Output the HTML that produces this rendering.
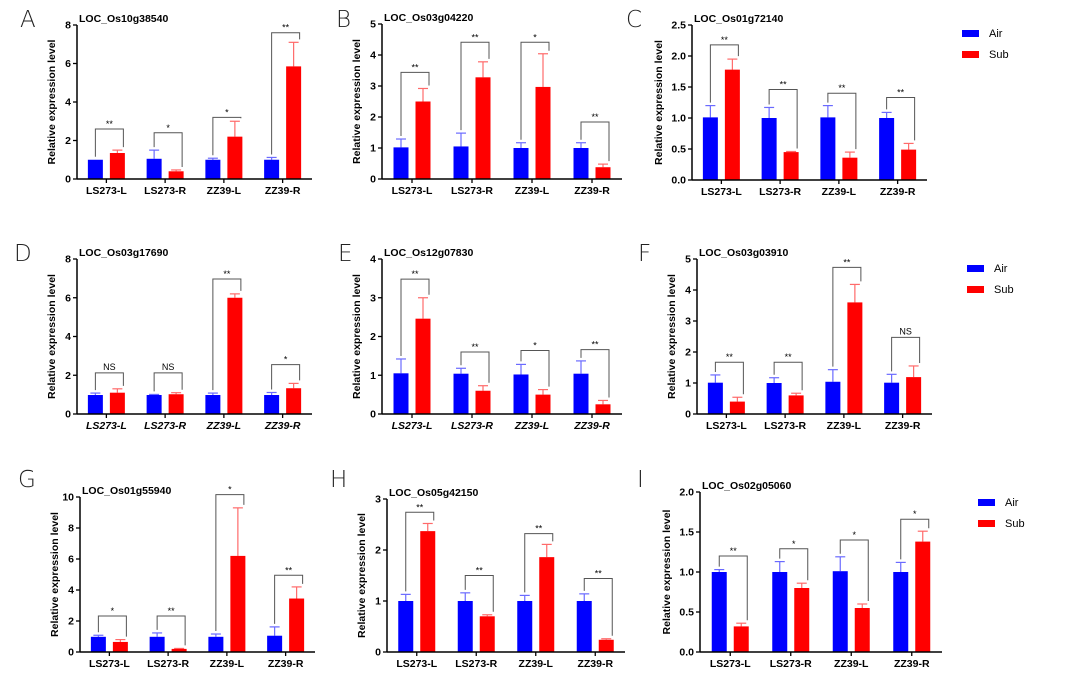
<!DOCTYPE html>
<html><head><meta charset="utf-8"><style>
html,body{margin:0;padding:0;background:#fff;}
svg{display:block;font-family:"Liberation Sans",Arial,sans-serif;}
.lt{font-size:23px;font-weight:300;fill:#222;font-family:"DejaVu Sans","Liberation Sans",sans-serif;}
.ttl{font-size:10.5px;font-weight:bold;}
.tk{font-size:10.5px;font-weight:bold;}
.cat{font-size:10.5px;font-weight:bold;}
.yt{font-size:10.5px;font-weight:bold;}
.sig{font-size:9px;}
.lg{font-size:11px;}
</style></head><body>
<svg id="fig" width="1080" height="688" viewBox="0 0 1080 688"></svg>
<script>
const categories = ["LS273-L","LS273-R","ZZ39-L","ZZ39-R"];
const panelLetters = ["A","B","C","D","E","F","G","H","I"];
const panelTitles = ["LOC_Os10g38540","LOC_Os03g04220","LOC_Os01g72140","LOC_Os03g17690","LOC_Os12g07830","LOC_Os03g03910","LOC_Os01g55940","LOC_Os05g42150","LOC_Os02g05060"];
const yMax = [8,5,2.5,8,4,5,10,3,2.0];
const yStep = [2,1,0.5,2,1,1,2,1,0.5];
const yDecimals = [0,0,1,0,0,0,0,0,1];
const airMeans = [[1,1.05,1,1],[1.02,1.05,1.0,1.0],[1.01,1.0,1.01,1.0],[0.98,0.98,0.98,0.98],[1.05,1.04,1.02,1.04],[1.01,1.0,1.04,1.01],[0.98,0.98,0.98,1.05],[1,1,1,1],[1.0,1.0,1.01,1.0]];
const airErr = [[0,0.45,0.08,0.12],[0.27,0.43,0.17,0.17],[0.19,0.17,0.19,0.09],[0.1,0.03,0.1,0.13],[0.37,0.14,0.26,0.33],[0.25,0.17,0.39,0.27],[0.1,0.25,0.18,0.57],[0.13,0.16,0.11,0.14],[0.03,0.13,0.18,0.12]];
const subMeans = [[1.35,0.4,2.2,5.85],[2.5,3.28,2.97,0.38],[1.78,0.45,0.36,0.49],[1.1,1.02,6.0,1.33],[2.46,0.6,0.5,0.25],[0.4,0.6,3.6,1.19],[0.65,0.2,6.2,3.45],[2.37,0.7,1.86,0.24],[0.32,0.8,0.55,1.38]];
const subErr = [[0.15,0.07,0.8,1.25],[0.42,0.5,1.07,0.1],[0.17,0.01,0.09,0.1],[0.2,0.08,0.2,0.25],[0.54,0.13,0.13,0.1],[0.14,0.07,0.58,0.36],[0.15,0.03,3.1,0.75],[0.15,0.03,0.25,0.02],[0.04,0.06,0.05,0.13]];
const bracketLevels = [[2.6,2.4,3.2,7.6],[3.44,4.41,4.41,1.84],[2.18,1.46,1.40,1.33],[2.12,2.12,6.97,2.55],[3.48,1.6,1.64,1.66],[1.67,1.67,4.73,2.47],[2.32,2.32,10.15,4.95],[2.74,1.5,2.32,1.44],[1.2,1.29,1.4,1.66]];
const sigLabels = [["**","*","*","**"],["**","**","*","**"],["**","**","**","**"],["NS","NS","**","*"],["**","**","*","**"],["**","**","**","NS"],["*","**","*","**"],["**","**","**","**"],["**","*","*","*"]];
const seriesNames = ["Air","Sub"];
const seriesColors = ["#0000ff","#ff0000"];
const errColors = ["#6a6aff","#ff6a6a"];
// layout (geometry, not data)
const frames = [
 {x0:77,x1:312,top:25,bot:179,lx:20,ly:27},
 {x0:382,x1:622,top:24,bot:179,lx:336,ly:27},
 {x0:692,x1:927,top:25,bot:180,lx:626,ly:27},
 {x0:77,x1:312,top:259,bot:414,lx:14,ly:261},
 {x0:382,x1:622,top:259,bot:414,lx:338,ly:261},
 {x0:697,x1:932,top:259,bot:414,lx:638,ly:261},
 {x0:80,x1:315,top:497,bot:652,lx:18,ly:487},
 {x0:387,x1:625,top:499,bot:652,lx:330,ly:487},
 {x0:700,x1:942,top:492,bot:652,lx:637,ly:487}
];
const italicPanels = [3,4];
const legendPos = [{x:962,y:33},{x:967,y:268},{x:978,y:502}];

const NS="http://www.w3.org/2000/svg";
const svg=document.getElementById('fig');
function mk(tag,attrs,parent){const e=document.createElementNS(NS,tag);for(const k in attrs)e.setAttribute(k,attrs[k]);(parent||svg).appendChild(e);return e;}

for(let p=0;p<9;p++){
  const f=frames[p];
  const g=mk('g',{});
  
  
  const yS=v=>f.bot-(v/yMax[p])*(f.bot-f.top);
  const band=(f.x1-f.x0)/4;
  const xC=i=>f.x0+band*(i+0.5);
  const bw=15, off=11;
  let t=mk('text',{x:f.lx,y:f.ly,class:'lt'},g);t.textContent=panelLetters[p];
  
  
  t=mk('text',{x:f.x0+2,y:f.top-3,class:'ttl'},g);t.textContent=panelTitles[p];
  
  
  for(let v=0;v<=yMax[p]+1e-9;v+=yStep[p]){
    const y=yS(v);
    mk('line',{x1:f.x0-4,x2:f.x0,y1:y,y2:y,stroke:'#000','stroke-width':1.3},g);
    t=mk('text',{x:f.x0-6,y:y+3.5,class:'tk','text-anchor':'end'},g);t.textContent=v.toFixed(yDecimals[p]);
    
    
  }
  const yc=(f.top+f.bot)/2, yx=f.x0-(yDecimals[p]?30:22);
  t=mk('text',{x:yx,y:yc,class:'yt','text-anchor':'middle',transform:`rotate(-90 ${yx} ${yc})`},g);
  t.textContent='Relative expression level';
  
  
  for(let i=0;i<4;i++){
    const c=xC(i);
    const sets=[[airMeans[p][i],airErr[p][i],c-off],[subMeans[p][i],subErr[p][i],c+off]];
    let tops=[];
    sets.forEach((s,k)=>{
      const [m,e,cx]=s;
      const ey=yS(m+e);
      if(e>0){
        mk('line',{x1:cx,x2:cx,y1:yS(m),y2:ey,stroke:errColors[k],'stroke-width':1.2},g);
        mk('line',{x1:cx-5,x2:cx+5,y1:ey,y2:ey,stroke:errColors[k],'stroke-width':1.2},g);
      }
      const r=mk('rect',{x:cx-bw/2,y:yS(m),width:bw,height:f.bot-yS(m),fill:seriesColors[k]},g);
      
      
      tops.push(ey);
    });
    const by=yS(bracketLevels[p][i]);
    mk('polyline',{points:`${c-off},${tops[0]-3} ${c-off},${by} ${c+off+6},${by} ${c+off+6},${tops[1]-3}`,fill:'none',stroke:'#555','stroke-width':1},g);
    const ns=sigLabels[p][i]==='NS';
    t=mk('text',{x:c+3,y:by-(ns?3:2),class:'sig','text-anchor':'middle','font-size':ns?12:9},g);t.textContent=sigLabels[p][i];
    
    
    mk('line',{x1:c,x2:c,y1:f.bot,y2:f.bot+4,stroke:'#000','stroke-width':1.3},g);
    t=mk('text',{x:c,y:f.bot+15,class:'cat','text-anchor':'middle','font-style':italicPanels.includes(p)?'italic':'normal'},g);
    t.textContent=categories[i];
    
    
  }
  mk('line',{x1:f.x0,x2:f.x0,y1:f.top,y2:f.bot,stroke:'#000','stroke-width':1.5},g);
  mk('line',{x1:f.x0,x2:f.x1,y1:f.bot,y2:f.bot,stroke:'#000','stroke-width':1.5},g);
}
legendPos.forEach((L,j)=>{
  const g=mk('g',{});
  
  
  seriesNames.forEach((n,k)=>{
    const y=L.y+k*21;
    mk('rect',{x:L.x,y:y-3,width:17,height:7,fill:seriesColors[k]},g);
    const t=mk('text',{x:L.x+27,y:y+4,class:'lg'},g);t.textContent=n;
    
    
  });
});
</script>
</body></html>
